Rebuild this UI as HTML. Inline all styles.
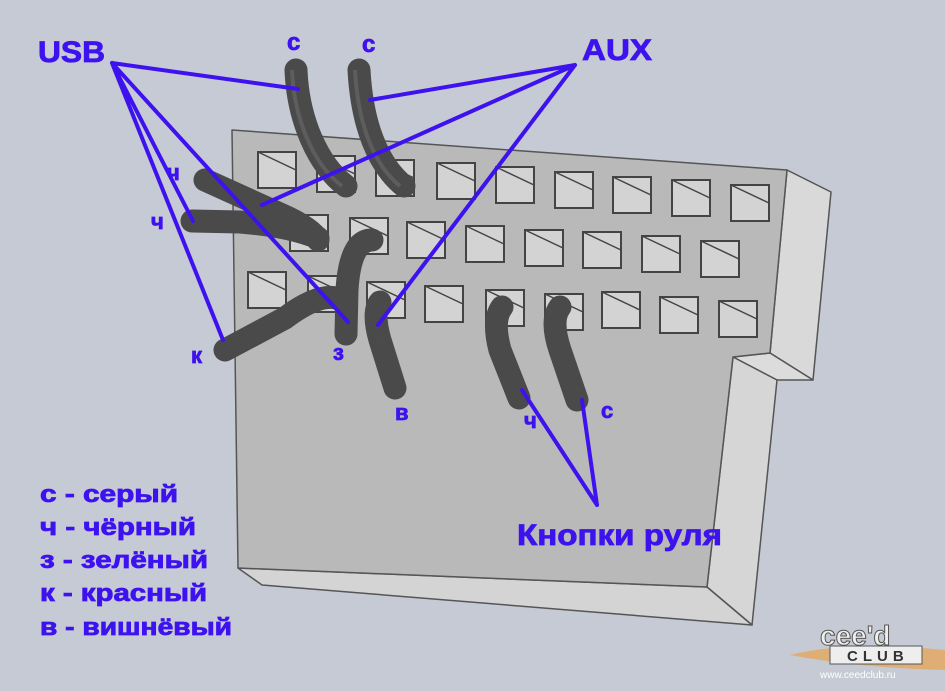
<!DOCTYPE html>
<html><head><meta charset="utf-8"><style>
html,body{margin:0;padding:0;background:#c6cad5;}
svg{display:block}
text{font-family:"Comic Sans MS","Liberation Sans","DejaVu Sans",sans-serif;font-weight:bold;fill:#3d12ee;stroke:#3d12ee;stroke-width:0.8}
</style></head><body>
<svg width="945" height="691" viewBox="0 0 945 691" xmlns="http://www.w3.org/2000/svg">
<rect width="945" height="691" fill="#c6cad5"/>
<g stroke="#555" stroke-width="1.5" stroke-linejoin="round">
<polygon points="787,170 831,192 813,380 770,353" fill="#d9d9d9"/>
<polygon points="733,357 770,353 813,380 777,380" fill="#dcdcdc"/>
<polygon points="733,357 777,380 752,625 707,587" fill="#d6d6d6"/>
<polygon points="238,568 707,587 752,625 262,585" fill="#d4d4d4"/>
<polygon points="232,130 787,170 770,353 733,357 707,587 238,568" fill="#b9b9b9"/>
</g>
<g stroke="#444" stroke-width="2" fill="#d3d3d3">
<rect x="258" y="152" width="38" height="36"/><rect x="317" y="156" width="38" height="36"/><rect x="376" y="160" width="38" height="36"/><rect x="437" y="163" width="38" height="36"/><rect x="496" y="167" width="38" height="36"/><rect x="555" y="172" width="38" height="36"/><rect x="613" y="177" width="38" height="36"/><rect x="672" y="180" width="38" height="36"/><rect x="731" y="185" width="38" height="36"/>
<rect x="290" y="215" width="38" height="36"/><rect x="350" y="218" width="38" height="36"/><rect x="407" y="222" width="38" height="36"/><rect x="466" y="226" width="38" height="36"/><rect x="525" y="230" width="38" height="36"/><rect x="583" y="232" width="38" height="36"/><rect x="642" y="236" width="38" height="36"/><rect x="701" y="241" width="38" height="36"/>
<rect x="248" y="272" width="38" height="36"/><rect x="308" y="276" width="38" height="36"/><rect x="367" y="282" width="38" height="36"/><rect x="425" y="286" width="38" height="36"/><rect x="486" y="290" width="38" height="36"/><rect x="545" y="294" width="38" height="36"/><rect x="602" y="292" width="38" height="36"/><rect x="660" y="297" width="38" height="36"/><rect x="719" y="301" width="38" height="36"/>
</g>
<g stroke="#444" stroke-width="1.5">
<path d="M258,152l38,18M317,156l38,18M376,160l38,18M437,163l38,18M496,167l38,18M555,172l38,18M613,177l38,18M672,180l38,18M731,185l38,18M290,215l38,18M350,218l38,18M407,222l38,18M466,226l38,18M525,230l38,18M583,232l38,18M642,236l38,18M701,241l38,18M248,272l38,18M308,276l38,18M367,282l38,18M425,286l38,18M486,290l38,18M545,294l38,18M602,292l38,18M660,297l38,18M719,301l38,18"/>
</g>
<g fill="none" stroke="#4a4a4a" stroke-width="23" stroke-linecap="round">
<path d="M296,70 C298,120 318,165 346,186"/>
<path d="M359,70 C362,125 378,165 404,186"/>
<path d="M205,180 L280,214 Q312,228 318,240"/>
<path d="M192,221 L240,222 Q290,226 318,238"/>
<path d="M346,334 L347,290 Q350,240 372,240"/>
<path d="M225,350 L285,318 Q322,290 342,300"/>
<path d="M380,302 Q372,312 380,340 L395,388"/>
<path d="M502,307 Q492,320 500,350 L519,398"/>
<path d="M560,307 Q550,320 560,350 L577,400"/>
</g>
<g fill="none" stroke="#6a6a6a" stroke-width="4" opacity=".6">
<path d="M292,70 C294,120 314,165 342,186"/>
<path d="M355,70 C358,125 374,165 400,186"/>
</g>
<g stroke="#3d12ee" stroke-width="4" fill="none" stroke-linecap="round">
<path d="M112,63 L298,89 M112,63 L348,322 M112,63 L193,221 M112,63 L223,340"/>
<path d="M575,65 L370,100 M575,65 L262,205 M575,65 L378,325"/>
<path d="M597,505 L522,390 M597,505 L582,400"/>
</g>
<text x="38" y="62" font-size="30" textLength="67" lengthAdjust="spacingAndGlyphs">USB</text>
<text x="582" y="60" font-size="30" textLength="70" lengthAdjust="spacingAndGlyphs">AUX</text>
<text x="287" y="50" font-size="24">с</text>
<text x="362" y="52" font-size="24">с</text>
<text x="167" y="180" font-size="22">ч</text>
<text x="151" y="229" font-size="22">ч</text>
<text x="191" y="363" font-size="22">к</text>
<text x="333" y="360" font-size="22">з</text>
<text x="395" y="420" font-size="22">в</text>
<text x="524" y="428" font-size="22">ч</text>
<text x="601" y="418" font-size="22">с</text>
<text x="517" y="545" font-size="30" textLength="205" lengthAdjust="spacingAndGlyphs">Кнопки руля</text>
<g font-size="24">
<text x="40" y="502" textLength="138" lengthAdjust="spacingAndGlyphs">с - серый</text>
<text x="40" y="535" textLength="156" lengthAdjust="spacingAndGlyphs">ч - чёрный</text>
<text x="40" y="568" textLength="168" lengthAdjust="spacingAndGlyphs">з - зелёный</text>
<text x="40" y="601" textLength="167" lengthAdjust="spacingAndGlyphs">к - красный</text>
<text x="40" y="635" textLength="192" lengthAdjust="spacingAndGlyphs">в - вишнёвый</text>
</g>
<path d="M790,655 Q850,640 945,650 L945,670 Q860,668 790,655Z" fill="#e9a24a" opacity=".7"/>
<text x="820" y="645" font-size="28" style="fill:#eee;stroke:#555;stroke-width:1;font-family:'Liberation Sans',sans-serif">cee'd</text>
<rect x="830" y="646" width="92" height="18" fill="#eee" stroke="#555"/>
<text x="847" y="661" font-size="15" style="fill:#333;stroke:none;font-family:'Liberation Sans',sans-serif;letter-spacing:5px">CLUB</text>
<text x="820" y="678" font-size="10" style="fill:#fff;stroke:none;font-family:'Liberation Sans',sans-serif;font-weight:normal">www.ceedclub.ru</text>
</svg>
</body></html>
